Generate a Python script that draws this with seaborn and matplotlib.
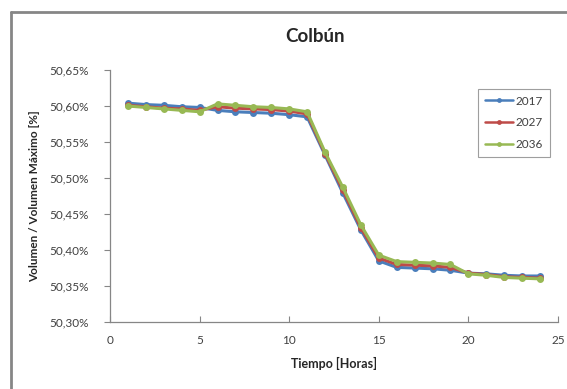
import matplotlib
matplotlib.use("Agg")
import matplotlib.pyplot as plt
import matplotlib.ticker as mticker
from matplotlib.lines import Line2D
import pandas as pd
import seaborn as sns

hours = list(range(1, 25))
years = ["2017", "2027", "2036"]
v2017 = [50.604, 50.602, 50.601, 50.599, 50.598, 50.594, 50.592, 50.591, 50.590, 50.588, 50.585, 50.532,
         50.479, 50.428, 50.385, 50.376, 50.375, 50.374, 50.372, 50.368, 50.367, 50.365, 50.364, 50.364]
v2027 = [50.601, 50.599, 50.597, 50.596, 50.594, 50.599, 50.597, 50.596, 50.595, 50.593, 50.589, 50.534,
         50.483, 50.431, 50.389, 50.380, 50.379, 50.378, 50.376, 50.368, 50.366, 50.363, 50.362, 50.361]
v2036 = [50.600, 50.598, 50.596, 50.594, 50.592, 50.603, 50.601, 50.599, 50.598, 50.596, 50.592, 50.536,
         50.487, 50.435, 50.393, 50.384, 50.383, 50.382, 50.380, 50.367, 50.365, 50.362, 50.361, 50.360]
colors = ["#4A7EBB", "#BE4B48", "#98B954"]

df = pd.DataFrame({
    "hora": hours * 3,
    "valor": v2017 + v2027 + v2036,
    "anio": [y for y in years for _ in hours],
})

sns.set_style("white")
plt.rcParams["font.family"] = ["Lato", "DejaVu Sans"]

fig = plt.figure(figsize=(5.67, 3.89), dpi=100)
ax = fig.add_axes([0.194, 0.172, 0.79, 0.648])

sns.lineplot(data=df, x="hora", y="valor", hue="anio", palette=colors, marker="o",
             markersize=5, markeredgewidth=0, linewidth=2.2, ax=ax)

ax.set_xlim(0, 25)
ax.set_ylim(50.30, 50.65)
ax.xaxis.set_major_locator(mticker.MultipleLocator(5))
ax.yaxis.set_major_locator(mticker.MultipleLocator(0.05))
ax.yaxis.set_major_formatter(mticker.FuncFormatter(lambda v, p: f"{v:.2f}%".replace(".", ",")))

for s in ["top", "right"]:
    ax.spines[s].set_visible(False)
for s in ["left", "bottom"]:
    ax.spines[s].set_color("#868686")
    ax.spines[s].set_linewidth(0.9)
ax.tick_params(axis="y", direction="out", length=4, width=0.8, color="#868686",
               labelsize=8.5, labelcolor="#404040", pad=11, left=True)
ax.tick_params(axis="x", direction="in", length=4, width=0.8, color="#868686",
               labelsize=8.5, labelcolor="#404040", pad=9, bottom=True)

ax.set_xlabel("Tiempo [Horas]", fontsize=9, fontweight="bold", labelpad=8)
ax.set_ylabel("Volumen / Volumen Máximo [%]", fontsize=8.5, fontweight="bold", labelpad=7)
fig.text(0.556, 0.905, "Colbún", ha="center", va="center", fontsize=13.5, fontweight="bold")

leg = ax.legend(loc="upper right", bbox_to_anchor=(0.995, 0.95), fontsize=8.5, frameon=True,
                fancybox=False, edgecolor="#868686", handlelength=2.4, labelspacing=0.9,
                borderpad=0.6, handletextpad=0.2, markerscale=0.7)
leg.get_frame().set_linewidth(0.8)
for h in leg.get_lines():
    h.set_linewidth(1.8)
for t in leg.get_texts():
    t.set_color("#404040")

fig.add_artist(Line2D([0.02, 0.02], [0, 0.968], color="#868686", linewidth=2.0,
                      transform=fig.transFigure))
fig.add_artist(Line2D([0.02, 1.0], [0.968, 0.968], color="#868686", linewidth=2.0,
                      transform=fig.transFigure))

fig.savefig("out.png", dpi=100)
